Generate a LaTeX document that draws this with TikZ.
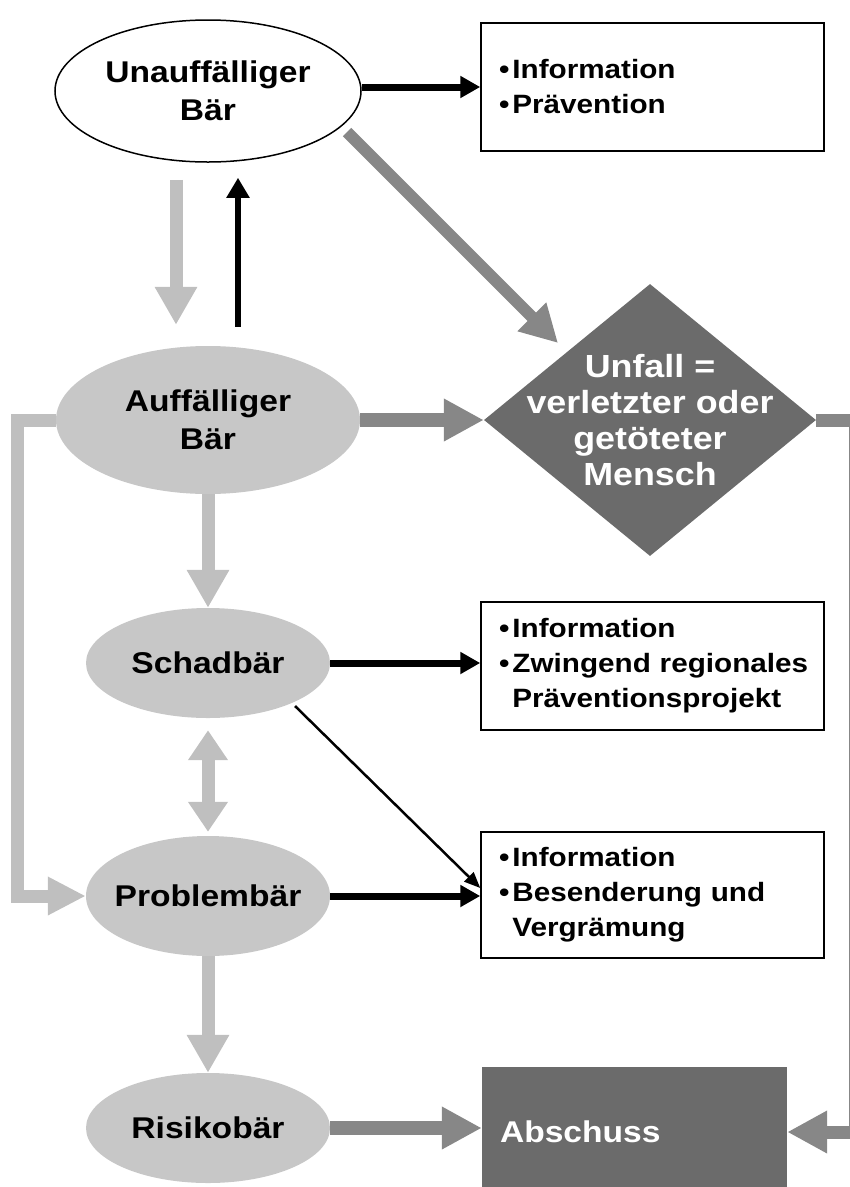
\documentclass[tikz,border=0pt]{standalone}
\usepackage{fontspec}
\setmainfont{Liberation Sans}[FakeStretch=1.12]
\usetikzlibrary{arrows.meta}
\usetikzlibrary{shapes.geometric}
\definecolor{bearfill}{gray}{0.78}
\definecolor{lightarr}{gray}{0.75}
\definecolor{darkarr}{gray}{0.53}
\definecolor{darkfill}{gray}{0.42}
\newcommand{\bul}{\textbullet\kern3pt}

\begin{document}
\begin{tikzpicture}[x=1pt, y=1pt,
				   bear/.style={ellipse, fill=bearfill, inner xsep=-20pt, inner ysep=0pt, align=center, font=\fontsize{30}{38}\selectfont\bfseries},
				   note/.style={rectangle, draw=black, line width=1.5pt, minimum width=343pt, minimum height=128pt, text width=307pt, inner xsep=18pt, align=left, font=\fontsize{26.5}{35}\selectfont\bfseries},
				   light/.style={draw=lightarr, line width=13pt, line join=miter, -{Triangle[length=38pt, width=40pt]}},
				   dark/.style={draw=darkarr, line width=14pt, line join=miter, -{Triangle[length=40pt, width=40pt]}},
				   heavy/.style={draw=black, line width=7pt, -{Triangle[length=20pt, width=21pt]}}]
\useasboundingbox (0,0) rectangle (850,-1187);
\node[bear, fill=white, draw=black, line width=1.5pt, minimum width=306pt, minimum height=142pt] (U) at (208,-91) {Unauffälliger\\Bär};
\node[bear, minimum width=304pt, minimum height=148pt] (A) at (208,-420) {Auffälliger\\Bär};
\node[bear, minimum width=244pt, minimum height=110pt] (S) at (208,-663) {Schadbär};
\node[bear, minimum width=244pt, minimum height=120pt] (P) at (208,-896) {Problembär};
\node[bear, minimum width=244pt, minimum height=110pt] (R) at (208,-1128) {Risikobär};
\node[diamond, fill=darkfill, minimum width=332pt, minimum height=272pt, inner sep=0pt] (D) at (650,-420) {};
\node[text=white, align=center, font=\fontsize{32}{36}\selectfont\bfseries] (Dtext) at (D) {Unfall =\\verletzter oder\\getöteter\\Mensch};
\node[note] (B1) at (652.5,-87) {\mbox{\bul Information}\\\mbox{\bul Prävention}};
\node[note] (B2) at (652.5,-666) {\mbox{\bul Information}\\\mbox{\bul Zwingend regionales}\\\mbox{\phantom{\bul}Präventionsprojekt}};
\node[note, minimum height=126pt] (B3) at (652.5,-895) {\mbox{\bul Information}\\\mbox{\bul Besenderung und}\\\mbox{\phantom{\bul}Vergrämung}};
\node[rectangle, fill=darkfill, minimum width=305pt, minimum height=130pt, text width=269pt, inner xsep=18pt, align=left, text=white, font=\fontsize{30}{36}\selectfont\bfseries] (Ab) at (634.5,-1132) {Abschuss};

\draw[heavy] (U.east |- B1.west) -- (B1.west);
\draw[light] ([shift={(-32pt,-17pt)}]U.south) -- ([shift={(-32pt,21pt)}]A.north);
\draw[heavy, line width=6pt, -{Triangle[length=20pt, width=22pt]}] ([shift={(30pt,19pt)}]A.north) -- ([shift={(30pt,-15pt)}]U.south);
\draw[dark, line width=12pt, -{Triangle[length=37pt, width=38pt]}] ([shift={(139pt,-41pt)}]U.center) -- ([shift={(-92pt,77pt)}]D.center);
\draw[dark] (A.east) -- (D.west);
\draw[light, -{Triangle[length=38pt, width=36pt]}] (A.west) -- ++(-38,0) |- (P.west);
\draw[light] (A.south) -- (S.north);
\draw[light, {Triangle[length=30pt, width=38pt]}-{Triangle[length=30pt, width=38pt]}] ([yshift=-12pt]S.south) -- ([yshift=4pt]P.north);
\draw[light] (P.south) -- (R.north);
\draw[heavy] (S.east) -- (S.east -| B2.west);
\draw[line width=2.5pt, -{Triangle[length=16pt, width=13pt]}] ([shift={(87pt,-43pt)}]S.center) -- ([yshift=7pt]B3.west);
\draw[heavy] (P.east) -- (P.east -| B3.west);
\draw[dark] (R.east) -- (R.east -| Ab.west);
\draw[dark, line width=13pt] (D.east) -- ++(39,0) |- (Ab.east);
\end{tikzpicture}
\end{document}
